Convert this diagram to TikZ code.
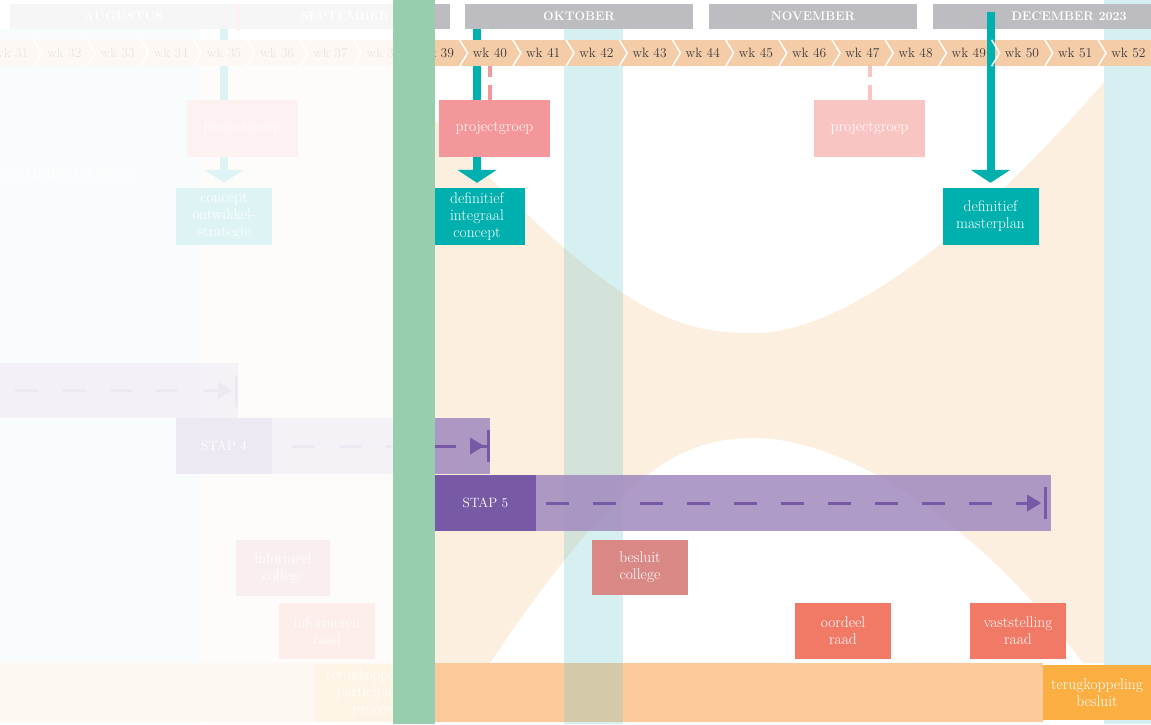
\documentclass[tikz,border=0pt]{standalone}
\usepackage{fontspec}
\usepackage{tikz}
\usetikzlibrary{arrows.meta}

\definecolor{monthgray}{HTML}{BDBDC1}
\definecolor{weekpeach}{HTML}{F5CCA8}
\definecolor{weektext}{HTML}{3A3A3A}
\definecolor{tealdark}{HTML}{00B0AE}
\definecolor{tealband}{HTML}{76CACD}
\definecolor{tealsoft}{HTML}{D6EFF0}
\definecolor{hourglass}{HTML}{FDEFDF}
\definecolor{greenband}{HTML}{97CFAE}
\definecolor{salmon}{HTML}{F4979A}
\definecolor{salmonlight}{HTML}{F9C5C3}
\definecolor{stapdark}{HTML}{7759A5}
\definecolor{stapmid}{HTML}{A38DC0}
\definecolor{collegered}{HTML}{D98886}
\definecolor{raadred}{HTML}{F07A66}
\definecolor{barorange}{HTML}{FDCB9B}
\definecolor{boxorange}{HTML}{FBAF43}

\begin{document}
\begin{tikzpicture}[x=1pt, y=-1pt,
  month/.style={fill=monthgray, text=white, font=\bfseries\fontsize{12.5}{14}\selectfont,
    minimum height=25pt, inner sep=0pt},
  weeklab/.style={minimum width=53.2pt, minimum height=26pt, inner sep=0pt,
    text=weektext, font=\fontsize{13.5}{15}\selectfont},
  box/.style={minimum width=96pt, minimum height=57pt, inner sep=0pt, align=center,
    text=white, font=\fontsize{15.5}{17}\selectfont},
  widebox/.style={box, minimum width=111pt},
  bar/.style={minimum height=56pt, inner sep=0pt},
  milestone/.style={line width=8pt, draw=tealdark, -{Triangle[width=39pt,length=13pt]}, shorten >=5pt},
  pglink/.style={line width=4pt, dash pattern=on 11pt off 8pt on 20pt off 1pt},
  stapdash/.style={line width=3pt, draw=stapdark, dash pattern=on 23pt off 24pt,
    -{Triangle[width=16pt,length=14pt,sep=3pt]Bar[width=32pt]}},
]
\useasboundingbox (0,0) rectangle (1151,724);
\clip (0,0) rectangle (1151,724);

% achtergrond
\fill[tealsoft] (0,29) rectangle (200,724);
\node[anchor=west, text=white, font=\fontsize{14}{16}\selectfont] (zomer) at (2,175) {ZOMERVAKANTIE};
\fill[hourglass] (200,66) rectangle (393,663);
\fill[hourglass] (393,120) -- (435,120)
  .. controls (620,320) and (680,333) .. (755,333)
  .. controls (830,333) and (950,260) .. (1104,82)
  -- (1104,663) -- (1083,663)
  .. controls (960,500) and (830,438) .. (755,438)
  .. controls (680,438) and (620,470) .. (490,663)
  -- (393,663) -- cycle;
\fill[barorange] (0,663) rectangle (1043,722);
\fill[tealband, opacity=0.3] (564,29) rectangle (623,724);
\fill[tealband, opacity=0.3] (1104,0) rectangle (1151,724);

% maanden
\node[month, minimum width=227pt] (mAug) at (123.5,16.5) {AUGUSTUS};
\node[month, minimum width=210pt] (mSep) at (345,16.5) {SEPTEMBER};
\node[month, minimum width=228pt] (mOkt) at (579,16.5) {OKTOBER};
\node[month, minimum width=208pt] (mNov) at (813,16.5) {NOVEMBER};
\node[month, minimum width=272pt] (mDec) at (1069,16.5) {DECEMBER 2023};
\coordinate (gapTop) at (237.5,4);
\coordinate (gapBot) at (237.5,31);
\draw[line width=4pt, draw=salmon] (gapTop) -- (gapBot);

% mijlpalen achter de weekbalk
\node[box, fill=tealdark] (conceptZ) at (224,216.5) {concept\\ontwikkel-\\strategie};
\node[box, fill=tealdark] (defA) at (477,216.5) {definitief\\integraal\\concept};
\coordinate (tZ) at (224,29);
\coordinate (tA) at (477,29);
\draw[milestone] (tZ) -- (conceptZ.north);
\draw[milestone] (tA) -- (defA.north);
\node[widebox, fill=salmon] (pgZ) at (242.5,128.5) {projectgroep};
\node[widebox, fill=salmon] (pgA) at (494.5,128.5) {projectgroep};

% weken
\fill[weekpeach] (0,40) rectangle (1151,66);
\foreach \k in {31,...,52}
  \node[weeklab] (wk\k) at ({490+(\k-40)*53.2},53) {wk \k};

\node[box, fill=tealdark] (defB) at (990.5,216.5) {definitief\\masterplan};
\coordinate (tB) at (990.5,12);
\draw[milestone] (tB) -- (defB.north);

\foreach \k in {31,...,52}
  \draw[white, line width=1.5pt] ([xshift=-4pt]wk\k.north east) -- ([xshift=4pt]wk\k.east)
    -- ([xshift=-4pt]wk\k.south east);

\draw[pglink, draw=salmon] (wk40.south) -- (wk40.south |- pgA.north);
\node[widebox, fill=salmonlight] (pgB) at (869.5,128.5) {projectgroep};
\draw[pglink, draw=salmonlight] (wk47.south -| pgB.north) -- (pgB.north);

% stappen
\node[bar, fill=stapmid, fill opacity=0.88, minimum width=238pt, minimum height=55pt] (stap3bar) at (119,390.5) {};
\draw[stapdash] ([xshift=15pt]stap3bar.west) -- (stap3bar.east);

\node[bar, fill=stapmid, fill opacity=0.88, minimum width=218pt] (stap4bar) at (381,446) {};
\node[box, fill=stapdark, minimum height=56pt, font=\fontsize{13.5}{15}\selectfont] (stap4lab) at (224,446) {STAP 4};
\draw[stapdash] ([xshift=20pt]stap4lab.east) -- (stap4bar.east);

\node[bar, fill=stapmid, fill opacity=0.88, minimum width=515pt] (stap5bar) at (793.5,503) {};
\node[box, fill=stapdark, minimum width=101pt, minimum height=56pt, font=\fontsize{13.5}{15}\selectfont] (stap5lab) at (485.5,503) {STAP 5};
\draw[stapdash] ([xshift=10pt]stap5lab.east) -- ([xshift=-4pt]stap5bar.east);

% besluitvorming
\node[box, fill=collegered, minimum width=94pt, minimum height=56pt] (infcollege) at (283,568) {informeel\\college};
\node[box, fill=raadred, minimum height=56pt] (infraad) at (327,631) {informeren\\raad};
\node[box, fill=boxorange, minimum width=114pt, minimum height=58pt] (terugpart) at (372,693) {terugkoppeling\\participatie\\proces};
\node[box, fill=collegered, minimum height=55pt] (besluit) at (640,567.5) {besluit\\college};
\node[box, fill=raadred, minimum height=56pt] (oordeel) at (843,631) {oordeel\\raad};
\node[box, fill=raadred, minimum height=56pt] (vaststelling) at (1018,631) {vaststelling\\raad};
\node[box, fill=boxorange, minimum width=108pt, minimum height=55pt] (terugbesluit) at (1097,692.5) {terugkoppeling\\besluit};

% verleden vervaagd
\fill[white, opacity=0.87] (0,0) rectangle (393,724);
\fill[greenband] (393,0) rectangle (435,724);

\end{tikzpicture}
\end{document}
